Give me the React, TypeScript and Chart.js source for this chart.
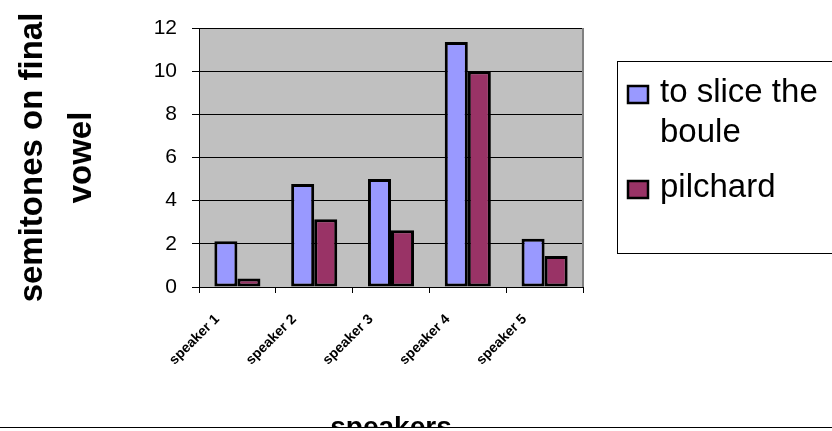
import React, { useEffect, useRef } from "react";
import { Chart, registerables } from "chart.js";

Chart.register(...registerables);

// ---- data ----
const categories = ["speaker 1", "speaker 2", "speaker 3", "speaker 4", "speaker 5"];
const sliceTheBoule = [2.12, 4.77, 5.0, 11.35, 2.24];
const pilchard = [0.39, 3.14, 2.63, 10.0, 1.44];
const seriesNames = ["to slice the boule", "pilchard"];
const seriesColors = ["#9999FF", "#993366"];
const yMin = 0;
const yMax = 12;
const yStep = 2;
const yTitle = ["semitones on final", "vowel"];
const xTitle = "speakers";

const FONT = "'Liberation Sans', Arial, Helvetica, sans-serif";

const decorPlugin = {
  id: "decor",
  beforeDraw(chart: any) {
    const { ctx, chartArea: a } = chart;
    ctx.save();
    ctx.fillStyle = "#C0C0C0";
    ctx.fillRect(a.left, a.top, a.right - a.left, a.bottom - a.top);
    ctx.restore();
  },
  afterDraw(chart: any) {
    const { ctx, chartArea: a } = chart;
    ctx.save();
    // right border of plot area
    ctx.fillStyle = "#808080";
    ctx.fillRect(a.right - 1, a.top, 2, a.bottom - a.top);

    // legend
    const boxL = 617;
    const boxT = 61;
    const boxB = 253;
    ctx.strokeStyle = "#000";
    ctx.lineWidth = 1;
    ctx.strokeRect(boxL + 0.5, boxT + 0.5, 300, boxB - boxT);
    ctx.font = `33px ${FONT}`;
    ctx.textBaseline = "alphabetic";
    ctx.textAlign = "left";
    const textX = 660;
    const maxW = 832 - textX - 4;
    let baseline = 102;
    chart.data.datasets.forEach((ds: any) => {
      const words = String(ds.label).split(" ");
      const lines: string[] = [];
      let cur = "";
      words.forEach((w) => {
        const test = cur ? cur + " " + w : w;
        if (ctx.measureText(test).width > maxW && cur) {
          lines.push(cur);
          cur = w;
        } else cur = test;
      });
      if (cur) lines.push(cur);
      // swatch
      ctx.fillStyle = ds.backgroundColor;
      ctx.fillRect(628, baseline - 16, 20, 17);
      ctx.strokeStyle = "#000";
      ctx.lineWidth = 2.5;
      ctx.strokeRect(628, baseline - 16, 20, 17);
      ctx.fillStyle = "#000";
      lines.forEach((ln, i) => {
        ctx.fillText(ln, textX, baseline + i * 40);
      });
      baseline += (lines.length - 1) * 40 + 55;
    });

    // page edge line
    ctx.fillStyle = "#fff";
    ctx.fillRect(0, 428, 832, 3);
    ctx.fillStyle = "#000";
    ctx.fillRect(0, 427, 832, 1);
    ctx.restore();
  },
};

export default function App() {
  const ref = useRef<HTMLCanvasElement>(null);
  useEffect(() => {
    if (!ref.current) return;
    const chart = new Chart(ref.current, {
      type: "bar",
      data: {
        labels: categories,
        datasets: [
          {
            label: seriesNames[0],
            data: sliceTheBoule,
            backgroundColor: seriesColors[0],
            borderColor: "#000",
            borderWidth: 3,
            borderSkipped: false,
          },
          {
            label: seriesNames[1],
            data: pilchard,
            backgroundColor: seriesColors[1],
            borderColor: "#000",
            borderWidth: 3,
            borderSkipped: false,
          },
        ],
      },
      options: {
        animation: false,
        responsive: false,
        devicePixelRatio: 1,
        layout: { padding: { top: 28, right: 249, left: 0, bottom: 0 } },
        datasets: { bar: { categoryPercentage: 0.6, barPercentage: 1 } },
        plugins: { legend: { display: false }, tooltip: { enabled: false } },
        scales: {
          x: {
            afterFit(scale: any) {
              scale.height = 144;
            },
            grid: {
              offset: true,
              drawOnChartArea: false,
              drawTicks: true,
              tickLength: 6,
              color: "#000",
            },
            border: { color: "#000", width: 1 },
            ticks: {
              autoSkip: false,
              minRotation: 45,
              maxRotation: 45,
              padding: 18,
              labelOffset: -20,
              color: "#000",
              font: { family: FONT, size: 14, weight: "bold" },
            },
            title: {
              display: true,
              text: xTitle,
              color: "#000",
              font: { family: FONT, size: 28, weight: "bold", lineHeight: 0.2 },
              padding: { top: 0, bottom: 0 },
            },
          },
          y: {
            min: yMin,
            max: yMax,
            afterFit(scale: any) {
              scale.width = 199;
            },
            grid: { color: "#000", tickLength: 7, drawTicks: true },
            border: { color: "#000", width: 1 },
            ticks: {
              stepSize: yStep,
              padding: 15,
              color: "#000",
              font: { family: FONT, size: 21 },
            },
            title: {
              display: true,
              text: yTitle,
              color: "#000",
              font: { family: FONT, size: 33, weight: "bold", lineHeight: 1.5 },
              padding: { top: 8, bottom: 0 },
            },
          },
        },
      },
      plugins: [decorPlugin],
    } as any);
    return () => chart.destroy();
  }, []);
  return (
    <div style={{ position: "fixed", left: 0, top: 0, width: 832, height: 431, background: "#fff" }}>
      <canvas ref={ref} width={832} height={431} style={{ display: "block", width: 832, height: 431 }} />
    </div>
  );
}
